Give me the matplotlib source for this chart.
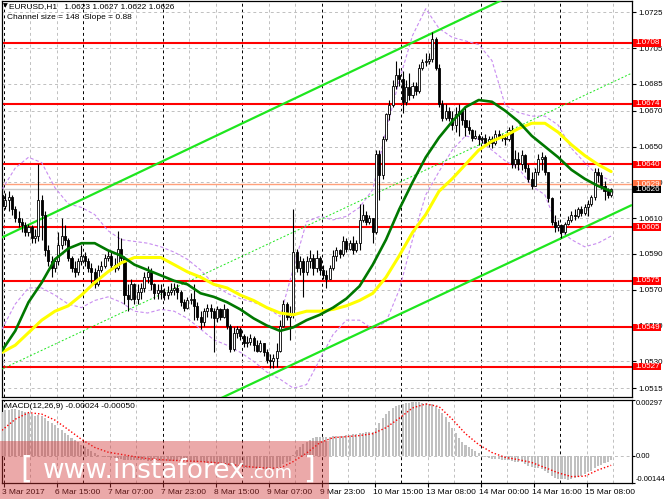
import numpy as np
import matplotlib
matplotlib.use("Agg")
import matplotlib.pyplot as plt
from matplotlib.patches import Rectangle
from matplotlib.transforms import blended_transform_factory, ScaledTranslation

plt.rcParams['font.family'] = ['Liberation Sans', 'DejaVu Sans']

BASE = 1.0       # prices below are in pips (1e-4) above 1.0000, e.g. 626 -> 1.0626
PIP = 1e-4

first_open = 623
close = [617, 620, 622, 615, 610, 608, 606, 602, 605, 599,
         600, 620, 612, 592, 586, 582, 586, 595, 600, 598,
         588, 582, 580, 586, 589, 586, 582, 580, 573, 581,
         583, 588, 589, 584, 582, 593, 588, 567, 565, 573,
         565, 569, 571, 577, 580, 573, 568, 570, 569, 567,
         569, 570, 571, 569, 563, 560, 564, 565, 561, 555,
         552, 558, 560, 558, 554, 559, 555, 559, 550, 537,
         546, 548, 544, 540, 541, 543, 539, 536, 540, 535,
         531, 530, 532, 536, 550, 562, 555, 556, 591, 582,
         586, 580, 586, 588, 582, 588, 581, 578, 576, 582,
         589, 592, 590, 597, 593, 596, 592, 596, 609, 612,
         608, 610, 602, 646, 634, 654, 668, 673, 684, 690,
         688, 675, 683, 679, 684, 681, 694, 697, 698, 699,
         710, 694, 674, 666, 670, 666, 662, 668, 670, 665,
         661, 659, 655, 656, 654, 655, 652, 654, 652, 657,
         656, 655, 654, 659, 640, 643, 640, 645, 638, 632,
         628, 636, 643, 644, 636, 621, 608, 605, 606, 602,
         607, 609, 612, 611, 615, 613, 616, 618, 622, 636,
         634, 628, 625, 623, 626]
high = [627, 624, 625, 623, 617, 614, 610, 608, 607, 606,
        604, 640, 623, 614, 595, 589, 588, 602, 610, 606,
        599, 589, 586, 588, 595, 591, 588, 585, 582, 584,
        586, 590, 592, 591, 588, 603, 599, 589, 573, 576,
        574, 573, 574, 580, 583, 582, 574, 573, 573, 571,
        572, 574, 574, 573, 570, 565, 566, 568, 573, 563,
        558, 560, 562, 562, 560, 561, 560, 562, 560, 551,
        549, 550, 549, 545, 544, 545, 544, 542, 542, 540,
        537, 534, 534, 540, 553, 564, 563, 561, 615, 593,
        589, 588, 589, 592, 590, 592, 589, 584, 581, 584,
        592, 594, 593, 600, 599, 598, 600, 598, 618, 618,
        614, 612, 610, 648, 648, 656, 669, 676, 687, 698,
        694, 692, 687, 691, 686, 686, 696, 699, 702, 702,
        714, 711, 696, 676, 674, 672, 670, 672, 674, 670,
        672, 665, 660, 659, 657, 656, 657, 656, 656, 659,
        659, 657, 656, 661, 662, 648, 647, 648, 646, 640,
        636, 638, 646, 647, 645, 636, 622, 612, 609, 607,
        608, 611, 614, 615, 616, 617, 618, 620, 623, 638,
        638, 636, 631, 627, 627]
low = [616, 615, 614, 612, 608, 605, 602, 600, 600, 596,
       596, 597, 598, 589, 583, 577, 580, 584, 593, 595,
       586, 580, 577, 578, 584, 583, 580, 574, 571, 572,
       580, 582, 586, 582, 580, 581, 586, 562, 558, 564,
       562, 562, 565, 569, 574, 570, 565, 565, 565, 564,
       565, 567, 567, 565, 561, 558, 559, 562, 553, 553,
       548, 550, 555, 554, 535, 552, 553, 554, 548, 535,
       536, 543, 542, 538, 538, 539, 536, 535, 535, 533,
       529, 526, 526, 527, 535, 549, 553, 542, 554, 580,
       578, 566, 578, 582, 578, 580, 578, 576, 571, 576,
       581, 586, 588, 589, 591, 592, 590, 591, 592, 608,
       606, 607, 596, 601, 620, 632, 653, 665, 672, 682,
       684, 669, 673, 676, 677, 679, 680, 693, 695, 696,
       697, 693, 672, 664, 665, 664, 659, 658, 656, 662,
       656, 657, 653, 654, 651, 652, 651, 650, 649, 651,
       655, 653, 651, 653, 638, 638, 637, 637, 636, 630,
       626, 628, 634, 637, 634, 619, 606, 602, 603, 599,
       601, 606, 608, 609, 610, 611, 612, 611, 617, 620,
       630, 626, 620, 621, 622]

# indicator lines sampled every 4 bars (bars 0, 4, ..., 184)
ma_green = [536, 547, 563, 574, 587, 593, 596, 596, 592, 589, 584, 581, 578, 575, 573, 568,
            566, 563, 559, 554, 550, 547, 549, 553, 556, 560, 565, 572, 584, 598, 615, 630,
            644, 655, 664, 672, 676, 675, 670, 664, 656, 650, 644, 637, 632, 628, 625]
ma_yellow = [535, 539, 546, 553, 558, 561, 567, 574, 580, 585, 588, 588, 588, 584, 580, 577,
             573, 571, 567, 564, 560, 557, 556, 558, 558, 559, 561, 564, 568, 577, 589, 602,
             612, 625, 632, 640, 648, 653, 656, 660, 663, 663, 658, 651, 645, 640, 636]
bb_upper = [626, 638, 644, 641, 627, 618, 616, 612, 603, 598, 597, 596, 594, 591, 587, 581,
            573, 568, 565, 563, 560, 555, 582, 608, 611, 609, 611, 616, 626, 659, 687, 712,
            727, 716, 711, 709, 707, 698, 673, 669, 667, 667, 662, 649, 641, 634, 631]
bb_lower = [548, 562, 571, 571, 567, 562, 560, 564, 566, 563, 558, 557, 559, 558, 554, 548,
            542, 539, 535, 530, 524, 520, 515, 517, 531, 545, 553, 553, 548, 552, 570, 598,
            623, 636, 648, 656, 654, 648, 642, 638, 628, 623, 604, 598, 594, 596, 600]

# MACD (units of 1e-5)
macd = [235, 242, 246, 248, 247, 244, 240, 234, 228, 221,
        214, 216, 210, 200, 188, 175, 162, 150, 138, 124,
        110, 96, 84, 72, 60, 45, 34, 24, 14, 6,
        -2, -6, -8, -10, -12, -14, -16, -20, -22, -22,
        -22, -23, -24, -24, -25, -25, -26, -27, -27, -28,
        -28, -28, -28, -28, -29, -29, -30, -30, -31, -32,
        -33, -34, -36, -37, -39, -41, -44, -46, -49, -52,
        -55, -58, -60, -62, -63, -65, -66, -67, -68, -68,
        -69, -69, -68, -66, -58, -44, -34, -26, 5, 30,
        48, 62, 75, 86, 93, 98, 100, 101, 100, 102,
        104, 106, 106, 108, 110, 112, 114, 116, 120, 123,
        125, 126, 126, 150, 175, 200, 222, 240, 254, 264,
        272, 278, 281, 283, 284, 285, 284, 282, 279, 276,
        274, 265, 250, 230, 207, 180, 150, 123, 95, 75,
        56, 46, 36, 28, 14, 2, -6, -10, -14, -17,
        -19, -20, -22, -24, -28, -30, -30, -34, -42, -52,
        -58, -62, -66, -72, -82, -93, -105, -115, -121, -124,
        -125, -126, -125, -120, -114, -106, -98, -88, -78, -66,
        -56, -48, -40, -32, -24]
macd_signal = [136, 195, 230, 222, 190, 140, 88, 45, 20, 8, -4, -15, -20, -24, -27, -30,
               -35, -43, -52, -60, -65, -65, -30, 15, 70, 97, 102, 108, 118, 150, 200, 255,
               276, 262, 195, 118, 60, 18, -8, -20, -35, -62, -90, -110, -108, -75, -50]

levels_red = [708, 674, 640, 605, 575, 549, 527]
level_orange = 629
price_now = 626
price_ticks = [725, 705, 685, 670, 650, 630, 610, 590, 570, 550, 530, 515]

channel_bars = [0, 190]
channel_upper = [599.2, 766.1]
channel_mid = [525.7, 690.8]
channel_lower = [451.9, 617.1]

time_labels = ["3 Mar 2017", "6 Mar 15:00", "7 Mar 07:00", "7 Mar 23:00", "8 Mar 15:00",
               "9 Mar 07:00", "9 Mar 23:00", "10 Mar 15:00", "13 Mar 08:00", "14 Mar 00:00",
               "14 Mar 16:00", "15 Mar 08:00"]

# ---------------------------------------------------------------------------
W, H = 665, 499
fig = plt.figure(figsize=(W / 100, H / 100), dpi=100)
fig.patch.set_facecolor('white')


def px_axes(x0, y0, x1, y1):
    return fig.add_axes([x0 / W, 1 - y1 / H, (x1 - x0) / W, (y1 - y0) / H])


ax = px_axes(2, 1, 632, 397)
ax2 = px_axes(2, 400, 632, 483)

p = lambda v: BASE + np.asarray(v, dtype=float) * PIP
nb = len(close)
bars = np.arange(nb)
c = p(close)
o = p(np.r_[first_open, close[:-1]])
h = np.maximum(p(high), np.maximum(o, c))
l = np.minimum(p(low), np.minimum(o, c))

XMAX = 190.3
for a in (ax, ax2):
    a.set_xlim(0, XMAX)
    for s in a.spines.values():
        s.set_linewidth(0.9)
        s.set_color('black')
ax.set_ylim(BASE + 510.07 * PIP, BASE + 731.31 * PIP)
ax2.set_ylim(-0.00144, 0.00297)

grid_gray = '#c0c0c0'
dash = (0, (3, 3))
# vertical grid / day separators
for k in range(24):
    gx = 0.6 + 8 * k
    col = 'black' if k % 3 == 0 else grid_gray
    for a in (ax, ax2):
        a.axvline(gx, color=col, lw=0.7, ls=dash, zorder=1)
# horizontal grid
for t in price_ticks:
    ax.axhline(p(t), color=grid_gray, lw=0.7, ls=dash, zorder=1)
ax2.axhline(0, color=grid_gray, lw=0.7, ls=dash, zorder=1)

# level lines
for lv in levels_red:
    ax.axhline(p(lv), color='#ff0000', lw=1.5, zorder=2)
ax.axhline(p(level_orange), color='#ff9f7a', lw=1.0, zorder=2)
ax.axhline(p(price_now), color='#c8c8c8', lw=1.0, zorder=2)

# Bollinger bands
mb = np.arange(0, nb, 4)
ax.plot(mb, p(bb_upper), color='#c88cf0', lw=0.8, ls=(0, (3, 2)), zorder=3)
ax.plot(mb, p(bb_lower), color='#c88cf0', lw=0.8, ls=(0, (3, 2)), zorder=3)

# regression channel
ax.plot(channel_bars, p(channel_upper), color='#1ee61e', lw=1.6, zorder=3)
ax.plot(channel_bars, p(channel_lower), color='#1ee61e', lw=1.6, zorder=3)
ax.plot(channel_bars, p(channel_mid), color='#1ee61e', lw=0.7, ls=(0, (2, 2)), zorder=3)

# candles
ax.vlines(bars, l, h, color='black', lw=0.8, zorder=4)
up = c >= o
ax.bar(bars[up], (c - o)[up], bottom=o[up], width=0.62, color='white',
       edgecolor='black', lw=0.6, zorder=5)
ax.bar(bars[~up], (c - o)[~up], bottom=o[~up], width=0.62, color='black',
       edgecolor='black', lw=0.6, zorder=5)

# moving averages
ax.plot(mb, p(ma_yellow), color='#ffff00', lw=2.2, zorder=6, solid_capstyle='round')
ax.plot(mb, p(ma_green), color='#007800', lw=1.9, zorder=6, solid_capstyle='round')

# right price axis
ax.yaxis.tick_right()
ax.set_yticks(p(price_ticks))
ax.set_yticklabels([f"{p(t):.4f}" for t in price_ticks])
ax.tick_params(axis='y', length=3, width=0.8, direction='out', pad=1.5, labelsize=5.8)
ax.set_xticks([])

# price label boxes
btr = blended_transform_factory(ax.transAxes, ax.transData)
box_h = 7.6 / 1.79 * PIP


def price_box(v, fc):
    ax.add_patch(Rectangle((1 + 1 / 630, p(v) - box_h / 2), 28 / 630, box_h, transform=btr,
                           facecolor=fc, edgecolor='none', clip_on=False, zorder=20))
    ax.text(1 + 3.5 / 630, p(v), f"{p(v):.4f}", transform=btr, ha='left', va='center',
            color='white', fontsize=5.8, clip_on=False, zorder=21)


for lv in levels_red:
    price_box(lv, '#ff0000')
price_box(level_orange, '#ff7040')
price_box(price_now, '#000000')

# MACD panel
ax2.bar(bars, np.asarray(macd) * 1e-5, width=0.62, color='#c0c0c0', zorder=3)
ax2.plot(mb, np.asarray(macd_signal) * 1e-5, color='#ff0000', lw=1.0, ls=(0, (1, 1.5)), zorder=4)
ax2.yaxis.tick_right()
ax2.set_yticks([0.00297, 0.0, -0.00144])
ax2.set_yticklabels(['0.00297', '0.00', '-0.00144'])
ax2.tick_params(axis='y', length=2, width=0.8, direction='out', pad=0.5, labelsize=5.5)
yt = ax2.yaxis.get_major_ticks()
yt[0].label2.set_va('top')
yt[2].label2.set_va('bottom')

label_bars = [0.6 + 16 * k for k in range(len(time_labels))]
ax2.set_xticks(label_bars)
ax2.set_xticklabels(time_labels)
ax2.tick_params(axis='x', length=3, width=0.8, direction='out', pad=1.5, labelsize=6)
shift = ScaledTranslation(-0.02, 0, fig.dpi_scale_trans)
for lbl in ax2.get_xticklabels():
    lbl.set_ha('left')
    lbl.set_transform(lbl.get_transform() + shift)

# header texts
fig.text(3 / W, 1 - 6 / H, "\u25BC", fontsize=4.5, va='center', ha='left',
         family=['DejaVu Sans'])
fig.text(9 / W, 1 - 6.5 / H, "EURUSD,H1   1.0623 1.0627 1.0622 1.0626", fontsize=6,
         va='center', ha='left')
fig.text(7 / W, 1 - 17.5 / H, "Channel size = 148  Slope = 0.88", fontsize=6,
         va='center', ha='left')
fig.text(5 / W, 1 - 406 / H, "MACD(12,26,9) -0.00024 -0.00050", fontsize=6,
         va='center', ha='left')

# watermark
fig.patches.append(Rectangle((0, 0), 329 / W, 58 / H, transform=fig.transFigure,
                             facecolor=(0.82, 0.2, 0.2), alpha=0.42, edgecolor='none',
                             zorder=30))
wm = dict(color='white', va='baseline', ha='left', family=['DejaVu Sans'], zorder=31)
fig.text(20 / W, 1 - 478 / H, "[", fontsize=22, **wm)
fig.text(43 / W, 1 - 478 / H, "www.instaforex", fontsize=19, **wm)
fig.text(248 / W, 1 - 478 / H, ".com", fontsize=13, **wm)
fig.text(303 / W, 1 - 478 / H, "]", fontsize=22, **wm)

fig.savefig("out.png", dpi=100, facecolor='white')
